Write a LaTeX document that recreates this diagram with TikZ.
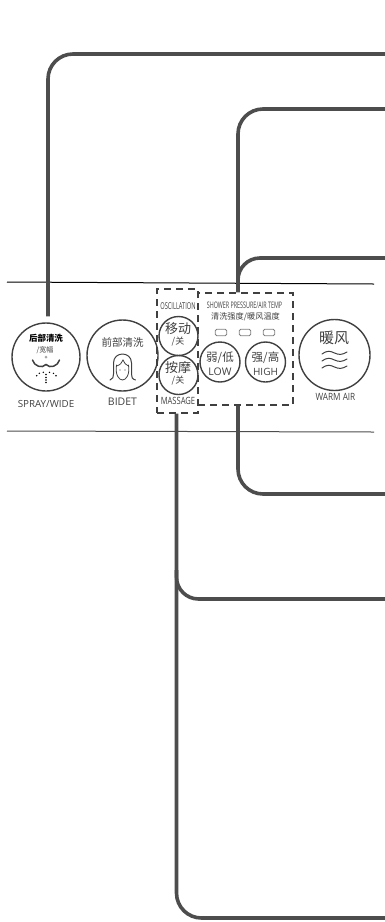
\documentclass[tikz,border=0pt]{standalone}
\usepackage{fontspec}
\setmainfont{Open Sans}
\newfontfamily\cjk{Noto Sans CJK SC}
\newcommand{\cond}[2]{\scalebox{#1}[1]{#2}}
\definecolor{leadgray}{HTML}{4D4D4D}
\definecolor{inkgray}{HTML}{404040}
\tikzset{ lead/.style = { draw = leadgray
                        , line width = 3.6pt
                        , rounded corners = 25pt
                        },
          rule/.style = { draw = leadgray
                        , line width = 1pt
                        },
          btn/.style = { circle
                       , draw = inkgray
                       , line width = 1.4pt
                       , inner sep = 0pt
                       },
          zone/.style = { draw = inkgray
                        , line width = 1.2pt
                        , dash pattern = on 7pt off 5pt
                        , inner sep = 0pt
                        },
          lamp/.style = { draw = gray
                        , line width = 0.9pt
                        , rounded corners = 1.5pt
                        , minimum width = 11.5pt
                        , minimum height = 6.5pt
                        , inner sep = 0pt
                        },
          lbl/.style = { text = inkgray
                       , inner sep = 0pt
                       },
          icon/.style = { draw = inkgray
                        , line width = 1pt
                        , line cap = round
                        }
        }
\begin{document}
\begin{tikzpicture}[x=1pt,y=-1pt]
    \useasboundingbox (0,0) rectangle (385,922);
    % panel edges
    \coordinate (ruleAl) at (7,282);
    \coordinate (ruleAr) at (374,284);
    \coordinate (ruleBl) at (7,431);
    \coordinate (ruleBr) at (374,432);
    \draw[rule, draw=black] (ruleAl) -- (ruleAr);
    \draw[rule] (ruleBl) -- (ruleBr);

    % dashed zones
    \node[zone, minimum width=41pt, minimum height=124pt] (oscbox) at (177.5,351) {};
    \node[zone, minimum width=95pt, minimum height=112pt] (pressbox) at (245.5,349) {};

    % buttons
    \node[btn, minimum size=68pt] (spray) at (46,357) {};
    \node[btn, minimum size=71pt] (bidet) at (122.5,355.5) {};
    \node[btn, minimum size=39pt] (osc) at (178.5,336) {};
    \node[btn, minimum size=39pt] (mass) at (178.5,375) {};
    \node[btn, minimum size=40pt] (low) at (220,362) {};
    \node[btn, minimum size=40pt] (high) at (265.5,362) {};
    \node[btn, minimum size=71pt] (warm) at (334.5,355) {};

    % button texts
    \node[lbl, text=black, font=\cjk\bfseries\fontsize{8.5}{9}\selectfont] (sprayA) at (46,338) {后部清洗};
    \node[lbl, font=\cjk\fontsize{7}{8}\selectfont] (sprayB) at (45,350) {/宽幅};
    \node[lbl, font=\cjk\fontsize{10.5}{11}\selectfont] (bidetA) at (122.5,342) {前部清洗};
    \node[lbl, font=\cjk\fontsize{13}{14}\selectfont] (oscA) at (178,328.5) {移动};
    \node[lbl, font=\cjk\fontsize{9}{10}\selectfont] (oscB) at (178,342) {/关};
    \node[lbl, font=\cjk\fontsize{13}{14}\selectfont] (massA) at (178,368) {按摩};
    \node[lbl, font=\cjk\fontsize{9}{10}\selectfont] (massB) at (178,381) {/关};
    \node[lbl, font=\cjk\fontsize{11.5}{12}\selectfont] (lowA) at (220,357.5) {弱/低};
    \node[lbl, font=\fontsize{10.5}{11}\selectfont] (lowB) at (220,371.5) {LOW};
    \node[lbl, font=\fontsize{10}{11}\selectfont] (highB) at (265.5,371.5) {HIGH};
    \node[lbl, font=\cjk\fontsize{11.5}{12}\selectfont] (highA) at (265.5,357.5) {强/高};
    \node[lbl, font=\cjk\fontsize{15}{16}\selectfont] (warmA) at (334,338) {暖风};

    % captions
    \node[lbl, font=\fontsize{9.8}{11}\selectfont] (sprayC) at (46,404) {SPRAY/WIDE};
    \node[lbl, font=\fontsize{10.5}{11}\selectfont] (bidetC) at (122.5,402) {BIDET};
    \node[lbl, font=\fontsize{10}{11}\selectfont] (warmC) at (335.5,397) {\cond{0.82}{WARM AIR}};
    \node[lbl, font=\fontsize{9.5}{10}\selectfont] (oscC) at (178,306) {\cond{0.6}{OSCILLATION}};
    \node[lbl, font=\fontsize{10}{11}\selectfont] (massC) at (178,401) {\cond{0.76}{MASSAGE}};
    \node[lbl, font=\fontsize{9}{10}\selectfont] (pressC) at (244.5,305.5) {\cond{0.6}{SHOWER PRESSURE/AIR TEMP}};
    \node[lbl, font=\cjk\fontsize{8.2}{9}\selectfont] (pressD) at (245.5,317) {清洗强度/暖风温度};

    % lamps
    \node[lamp] (lampA) at (221,332.5) {};
    \node[lamp] (lampB) at (245,332.5) {};
    \node[lamp] (lampC) at (269,332.5) {};

    % spray icon
    \fill[gray!70] (46,357) circle (1.5pt);
    \draw[icon, line width=1.5pt] (32.5,360) .. controls (34,366) and (42,369) .. (46,364.5)
        .. controls (50,369) and (58,366) .. (59.5,360);
    \foreach \px/\py in {36.7/375.7, 39.3/373.3, 43.3/372.3, 46/374.5, 49.5/372.3, 53.5/373.3, 56/375.7, 46/377.5, 46/380, 46/382.5}
        \fill[black] (\px,\py) circle (0.8pt);

    % lady icon
    \draw[icon] (110,380) .. controls (113,379) and (113.5,377) .. (113.5,374) -- (113.5,363)
        .. controls (113.5,351) and (131.5,351) .. (131.5,363) -- (131.5,374)
        .. controls (131.5,377) and (132,379) .. (135.5,380);
    \draw[icon, line width=0.8pt] (116.5,365) .. controls (115,375) and (119,380) .. (122.5,380)
        .. controls (126,380) and (130,375) .. (128.5,365);
    \draw[icon, line width=0.8pt] (116.5,366) .. controls (120,365) and (122,363) .. (123,360)
        .. controls (124,363) and (126,365) .. (128.5,366);
    \fill[inkgray] (120,370) circle (0.6pt) (125,370) circle (0.6pt);

    % warm air icon
    \foreach \wy in {353,360,367}
        \draw[icon] (322,\wy+1) .. controls (328,\wy-3) and (330,\wy-2) .. (334.5,\wy)
            .. controls (339,\wy+2) and (342,\wy+2) .. (347,\wy-1);

    % connector ends
    \coordinate (endA) at (390,54);
    \coordinate (endB) at (390,109);
    \coordinate (endC) at (390,258);
    \coordinate (endD) at (390,494);
    \coordinate (endE) at (390,599);
    \coordinate (endF) at (390,918);
    \coordinate (forkC) at (238,282);
    \coordinate (forkE) at (176.5,570);

    % connectors
    \draw[lead, shorten <=6pt] ([xshift=2pt]spray.north) |- (endA);
    \draw[lead] ([xshift=-7.5pt]pressbox.north) |- (endB);
    \draw[lead, rounded corners=22pt] (forkC) |- (endC);
    \draw[lead] ([xshift=-7.5pt]pressbox.south) |- (endD);
    \draw[lead] ([xshift=-1pt]oscbox.south) |- (endF);
    \draw[lead, rounded corners=22pt] (forkE) |- (endE);
\end{tikzpicture}
\end{document}
